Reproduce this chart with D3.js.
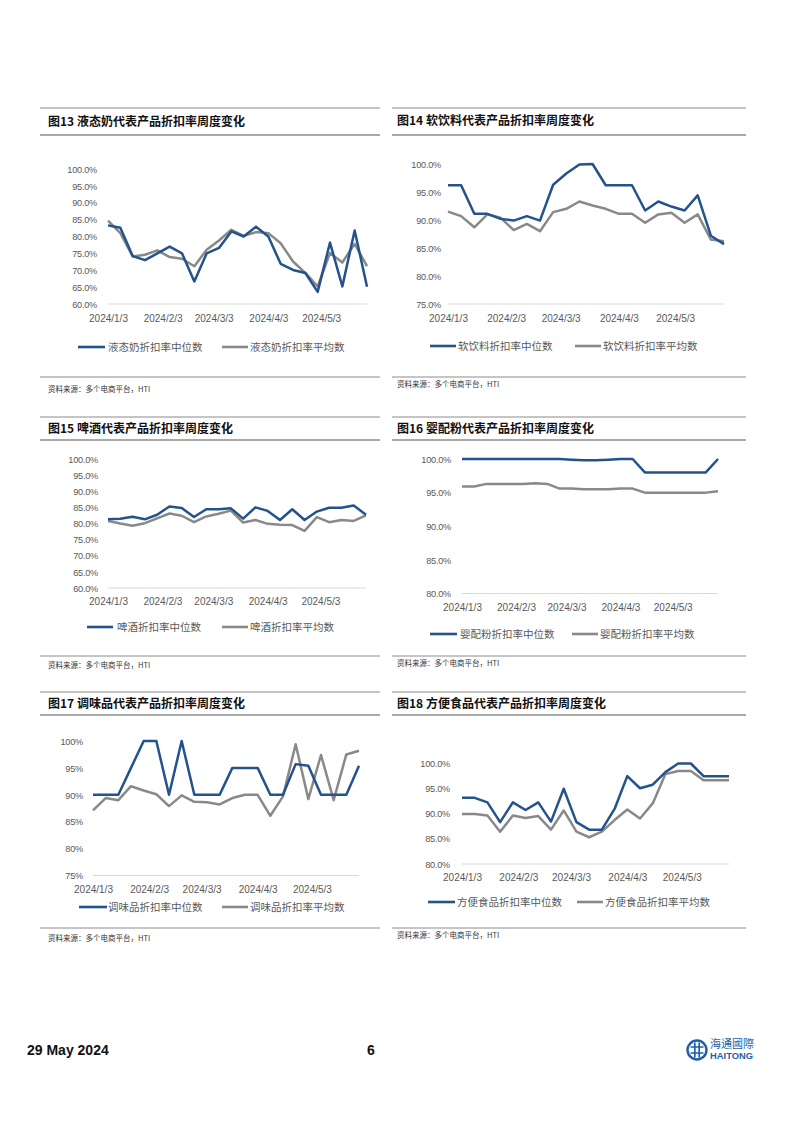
<!DOCTYPE html>
<html><head><meta charset="utf-8">
<script src="https://cdn.jsdelivr.net/npm/d3@7"></script>
<style>
html,body{margin:0;padding:0;background:#fff;}
svg{display:block;}
</style></head>
<body>
<script>
// ---------- DATA ----------
const weekDates = ["2024-01-03","2024-01-10","2024-01-17","2024-01-24","2024-01-31","2024-02-07","2024-02-14","2024-02-21","2024-02-28","2024-03-06","2024-03-13","2024-03-20","2024-03-27","2024-04-03","2024-04-10","2024-04-17","2024-04-24","2024-05-01","2024-05-08","2024-05-15","2024-05-22","2024-05-29"];
const xTickDates = ["2024-01-03","2024-02-03","2024-03-03","2024-04-03","2024-05-03"];
const xTickLabels = ["2024/1/3","2024/2/3","2024/3/3","2024/4/3","2024/5/3"];

const milkMedian = [83.3,82.6,74.2,73.0,75.0,77.0,75.0,66.7,75.0,76.6,81.5,80.0,82.9,80.0,71.9,70.1,69.2,63.6,78.2,65.2,81.8,65.1];
const milkMean   = [84.7,81.0,74.1,74.6,75.9,73.9,73.4,71.2,76.1,78.8,82.0,80.2,81.3,81.0,78.0,72.6,69.2,65.2,75.1,72.3,77.8,71.2];

const softMedian = [96.2,96.2,91.1,91.1,90.2,89.9,90.7,89.9,96.3,98.3,99.9,100.0,96.2,96.2,96.2,91.7,93.3,92.4,91.7,94.4,87.2,85.7];
const softMean   = [91.5,90.7,88.7,91.0,90.4,88.2,89.3,88.0,91.4,92.0,93.3,92.6,92.0,91.1,91.1,89.5,91.0,91.3,89.5,91.0,86.5,86.2];

const beerMedian = [81.3,81.5,82.1,81.3,82.7,85.3,84.8,82.0,84.4,84.4,84.7,81.5,85.0,83.9,81.1,84.4,81.1,83.7,84.9,84.9,85.6,82.7];
const beerMean   = [80.8,80.0,79.3,80.1,81.6,83.1,82.4,80.4,82.2,83.0,84.0,80.3,81.1,79.9,79.6,79.5,77.7,82.0,80.4,81.1,80.8,82.5];

const formulaMedian = [100,100,100,100,100,100,100,100,100,99.9,99.8,99.8,99.9,100,100,98.0,98.0,98.0,98.0,98.0,98.0,100];
const formulaMean   = [95.9,95.9,96.3,96.3,96.3,96.3,96.4,96.3,95.6,95.6,95.5,95.5,95.5,95.6,95.6,95.0,95.0,95.0,95.0,95.0,95.0,95.2];

const seasonMedian = [90,90,90,95,100,100,90,100,90,90,90,95,95,95,90,90,95.7,95.4,90,90,90,95.4];
const seasonMean   = [87.1,89.4,89.0,91.6,90.8,90.1,87.9,89.9,88.7,88.6,88.2,89.4,90.0,90.0,86.1,89.7,99.4,89.2,97.4,89.0,97.5,98.2];

const instantMedian = [93.1,93.1,92.2,88.3,92.2,90.7,92.2,88.4,94.9,88.3,86.8,86.8,90.9,97.4,95.0,95.7,98.2,99.9,99.9,97.4,97.4,97.4];
const instantMean   = [89.9,89.9,89.6,86.4,89.6,89.1,89.5,86.8,90.6,86.4,85.3,86.4,88.7,90.8,89.0,92.0,97.8,98.4,98.4,96.6,96.6,96.6];

const chartTitles = ["图13 液态奶代表产品折扣率周度变化","图14 软饮料代表产品折扣率周度变化","图15 啤酒代表产品折扣率周度变化","图16 婴配粉代表产品折扣率周度变化","图17 调味品代表产品折扣率周度变化","图18 方便食品代表产品折扣率周度变化"];
const medianNames = ["液态奶折扣率中位数","软饮料折扣率中位数","啤酒折扣率中位数","婴配粉折扣率中位数","调味品折扣率中位数","方便食品折扣率中位数"];
const meanNames = ["液态奶折扣率平均数","软饮料折扣率平均数","啤酒折扣率平均数","婴配粉折扣率平均数","调味品折扣率平均数","方便食品折扣率平均数"];
const yDomains = [[60,100],[75,100],[60,100],[80,100],[75,100],[80,100]];
const yFormats = [".1f",".1f",".1f",".1f",".0f",".1f"];
const sourceText = "资料来源：多个电商平台，HTI";
const medians = [milkMedian,softMedian,beerMedian,formulaMedian,seasonMedian,instantMedian];
const means = [milkMean,softMean,beerMean,formulaMean,seasonMean,instantMean];

// ---------- LAYOUT ----------
const layouts = [
 {bx0:40,bx1:380,top:108,tx:48,ty:122,ul:135,x0:108,x1:367,yT:169,yB:304,yLabR:97,xl:318,lg:347,s1:[78,105],t1:108,s2:[222,248],t2:250,sl:377,st:389},
 {bx0:392,bx1:746,top:108,tx:397,ty:121,ul:135,x0:448,x1:724,yT:164,yB:304,yLabR:441,xl:318,lg:346,s1:[430,456],t1:458,s2:[575,601],t2:603,sl:377,st:384},
 {bx0:40,bx1:380,top:417,tx:48,ty:429,ul:440,x0:108,x1:366,yT:459,yB:588,yLabR:98,xl:601,lg:627,s1:[87,113],t1:117,s2:[222,248],t2:250,sl:656,st:665},
 {bx0:392,bx1:746,top:417,tx:397,ty:429,ul:440,x0:462,x1:718,yT:459,yB:593.5,yLabR:451,xl:607,lg:634,s1:[430,457],t1:460,s2:[572,598],t2:600,sl:656,st:663},
 {bx0:40,bx1:380,top:692,tx:48,ty:704,ul:715,x0:93,x1:359,yT:741,yB:875.5,yLabR:83,xl:889,lg:907,s1:[79,107],t1:108,s2:[222,248],t2:250,sl:928,st:938},
 {bx0:392,bx1:746,top:692,tx:397,ty:704,ul:715,x0:462,x1:729,yT:763,yB:864,yLabR:450,xl:877,lg:902,s1:[428,455],t1:457,s2:[577,603],t2:605,sl:928,st:935}
];

const BLUE = "#24528c", GRAY = "#898989";
const parse = d3.utcParse("%Y-%m-%d");
const dates = weekDates.map(parse);
const tickDates = xTickDates.map(parse);
const CJK = "'Noto Sans CJK SC','Noto Sans',sans-serif";
const LAT = "'Liberation Sans',Arial,sans-serif";

const svg = d3.select("body").append("svg").attr("width",802).attr("height",1132);

layouts.forEach((L,i)=>{
  const g = svg.append("g");
  g.append("line").attr("x1",L.bx0).attr("x2",L.bx1).attr("y1",L.top).attr("y2",L.top).attr("stroke","#8c8c8c").attr("stroke-width",1.2);
  g.append("line").attr("x1",L.bx0).attr("x2",L.bx1).attr("y1",L.ul).attr("y2",L.ul).attr("stroke","#8c8c8c").attr("stroke-width",1.5);
  g.append("line").attr("x1",L.bx0).attr("x2",L.bx1).attr("y1",L.sl).attr("y2",L.sl).attr("stroke","#8c8c8c").attr("stroke-width",1.2);
  g.append("text").attr("x",L.tx).attr("y",L.ty).attr("dy","0.36em").attr("font-family",CJK).attr("font-weight","bold").attr("font-size",12).attr("fill","#111").text(chartTitles[i]);
  g.append("text").attr("x",L.tx).attr("y",L.st).attr("dy","0.36em").attr("font-family",CJK).attr("font-size",7.5).attr("fill","#333").text(sourceText);

  const x = d3.scaleUtc().domain([dates[0],dates[dates.length-1]]).range([L.x0,L.x1]);
  const y = d3.scaleLinear().domain(yDomains[i]).range([L.yB,L.yT]);
  const yTicks = d3.range(yDomains[i][0], yDomains[i][1]+0.001, 5);

  g.append("line").attr("x1",L.x0).attr("x2",L.x1).attr("y1",y(yDomains[i][0])).attr("y2",y(yDomains[i][0])).attr("stroke","#d9d9d9").attr("stroke-width",1);

  const fmt = d3.format(yFormats[i]);
  const yAx = g.append("g").attr("transform",`translate(${L.yLabR},0)`)
    .call(d3.axisLeft(y).tickValues(yTicks).tickSize(0).tickPadding(0).tickFormat(d=>fmt(d)+"%"));
  yAx.select(".domain").remove();
  yAx.selectAll("text").attr("font-family",LAT).attr("font-size",9.2).attr("letter-spacing","-0.25px").attr("fill","#595959").attr("dy","0.35em");

  const xAx = g.append("g").attr("transform",`translate(0,${L.xl})`)
    .call(d3.axisBottom(x).tickValues(tickDates).tickSize(0).tickPadding(0).tickFormat((d,k)=>xTickLabels[k]));
  xAx.select(".domain").remove();
  xAx.selectAll("text").attr("font-family",LAT).attr("font-size",10).attr("fill","#595959").attr("dy","0.35em").attr("y",0);

  const line = d3.line().x((d,k)=>x(dates[k])).y(d=>y(d));
  g.append("path").datum(means[i]).attr("d",line).attr("fill","none").attr("stroke",GRAY).attr("stroke-width",2.5).attr("stroke-linejoin","round");
  g.append("path").datum(medians[i]).attr("d",line).attr("fill","none").attr("stroke",BLUE).attr("stroke-width",2.5).attr("stroke-linejoin","round");

  g.append("line").attr("x1",L.s1[0]).attr("x2",L.s1[1]).attr("y1",L.lg).attr("y2",L.lg).attr("stroke",BLUE).attr("stroke-width",2.6);
  g.append("text").attr("x",L.t1).attr("y",L.lg).attr("dy","0.36em").attr("font-family",CJK).attr("font-size",10.5).attr("fill","#595959").text(medianNames[i]);
  g.append("line").attr("x1",L.s2[0]).attr("x2",L.s2[1]).attr("y1",L.lg).attr("y2",L.lg).attr("stroke",GRAY).attr("stroke-width",2.6);
  g.append("text").attr("x",L.t2).attr("y",L.lg).attr("dy","0.36em").attr("font-family",CJK).attr("font-size",10.5).attr("fill","#595959").text(meanNames[i]);
});

// footer
svg.append("text").attr("x",27).attr("y",1050).attr("dy","0.36em").attr("font-family",LAT).attr("font-weight","bold").attr("font-size",14).attr("fill","#111").text("29 May 2024");
svg.append("text").attr("x",371).attr("y",1050).attr("dy","0.36em").attr("text-anchor","middle").attr("font-family",LAT).attr("font-weight","bold").attr("font-size",14).attr("fill","#111").text("6");
const logo = svg.append("g").attr("transform","translate(697,1050)");
logo.append("circle").attr("r",9.5).attr("fill","none").attr("stroke","#1f5fa8").attr("stroke-width",2.4);
logo.append("path").attr("d","M-6.5,-3H6.5M-6.5,3H6.5M-2.2,-7.5V7.5M2.2,-7.5V7.5").attr("stroke","#1f5fa8").attr("stroke-width",1.7).attr("fill","none");
svg.append("text").attr("x",710).attr("y",1044.5).attr("dy","0.36em").attr("font-family",CJK).attr("font-size",11).attr("fill","#1f5fa8").text("海通國際");
svg.append("text").attr("x",710).attr("y",1056).attr("dy","0.36em").attr("font-family",LAT).attr("font-weight","bold").attr("font-size",9.4).attr("fill","#1f5fa8").text("HAITONG");
</script>
</body></html>
